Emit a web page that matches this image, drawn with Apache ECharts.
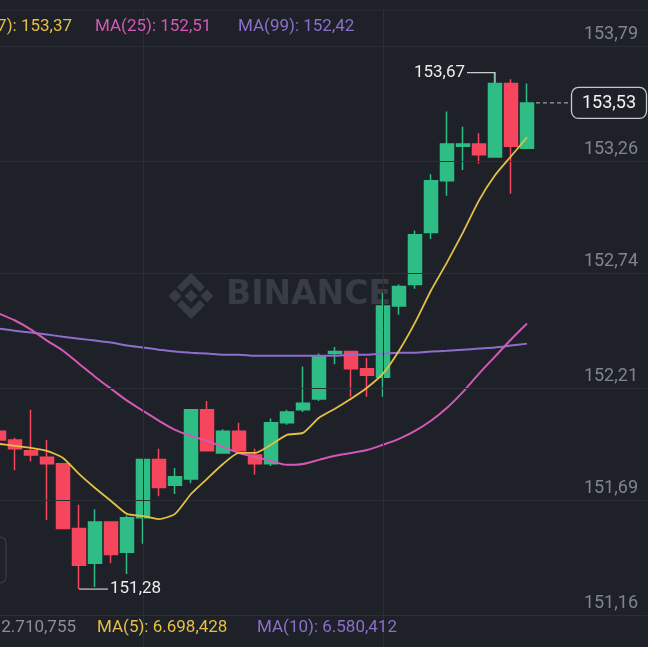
<!DOCTYPE html>
<html>
<head>
<meta charset="utf-8">
<script src="https://cdn.jsdelivr.net/npm/echarts@6/dist/echarts.min.js"></script>
<style>
html,body{margin:0;padding:0;background:#1e2128;overflow:hidden;}
#c{width:648px;height:647px;}
</style>
</head>
<body>
<div id="c"></div>
<script>
// ---- data ----
// candles: [open, close, low, high]
const candles = [
  [152.01, 151.97, 151.96, 152.02],
  [151.97, 151.93, 151.83, 151.98],
  [151.92, 151.90, 151.87, 152.11],
  [151.89, 151.86, 151.60, 151.97],
  [151.86, 151.56, 151.56, 151.86],
  [151.56, 151.39, 151.28, 151.67],
  [151.40, 151.59, 151.29, 151.65],
  [151.59, 151.44, 151.40, 151.59],
  [151.45, 151.61, 151.35, 151.62],
  [151.61, 151.88, 151.49, 151.88],
  [151.88, 151.75, 151.71, 151.93],
  [151.76, 151.80, 151.72, 151.84],
  [151.79, 152.11, 151.77, 152.11],
  [152.11, 151.92, 151.92, 152.15],
  [151.91, 152.01, 151.91, 152.02],
  [152.01, 151.92, 151.91, 152.05],
  [151.90, 151.86, 151.81, 151.93],
  [151.86, 152.05, 151.85, 152.07],
  [152.05, 152.10, 152.04, 152.11],
  [152.11, 152.14, 152.10, 152.31],
  [152.16, 152.36, 152.15, 152.37],
  [152.37, 152.38, 152.32, 152.40],
  [152.38, 152.30, 152.17, 152.38],
  [152.30, 152.27, 152.17, 152.35],
  [152.26, 152.59, 152.17, 152.65],
  [152.59, 152.68, 152.55, 152.69],
  [152.69, 152.92, 152.67, 152.94],
  [152.93, 153.17, 152.90, 153.20],
  [153.17, 153.34, 153.10, 153.49],
  [153.33, 153.34, 153.22, 153.42],
  [153.34, 153.29, 153.25, 153.39],
  [153.28, 153.62, 153.28, 153.67],
  [153.62, 153.33, 153.11, 153.64],
  [153.32, 153.53, 153.32, 153.62]
];
const ma7 = [151.952,151.943,151.934,151.920,151.887,151.813,151.748,151.688,151.628,151.618,
  151.604,151.628,151.720,151.790,151.859,151.910,151.910,151.948,151.994,152.003,
  152.073,152.115,152.161,152.212,152.277,152.383,152.513,152.662,152.792,152.931,
  153.079,153.195,153.283,153.371];
const ma25 = [152.555,152.523,152.481,152.430,152.383,152.323,152.263,152.207,152.152,152.105,
  152.059,152.017,151.989,151.966,151.938,151.910,151.892,151.873,151.855,151.859,
  151.878,151.897,151.910,151.924,151.948,151.975,152.012,152.059,152.119,152.193,
  152.277,152.356,152.435,152.509];
const ma99 = [152.486,152.476,152.467,152.458,152.448,152.439,152.430,152.421,152.407,152.398,
  152.388,152.379,152.374,152.370,152.365,152.365,152.360,152.360,152.360,152.360,
  152.360,152.360,152.365,152.365,152.370,152.374,152.374,152.379,152.383,152.388,
  152.393,152.398,152.407,152.416];
const yTicks = [151.16, 151.69, 152.21, 152.74, 153.26, 153.79];
const vGridAt = [9, 24];           // candle indices carrying vertical grid lines
const volLegend = ['2.710,755', 'MA(5): 6.698,428', 'MA(10): 6.580,412'];
const watermark = 'BINANCE';
const emptySlots = 7;              // empty room right of the last candle

// ---- styles ----
const BG = '#1e2128', GRID = '#2a2e36', AXT = '#80858d';
const UP = '#2ebd85', DOWN = '#f6465d';
const C7 = '#e6bf45', C25 = '#d558b6', C99 = '#8c6fcc';
const FONT = 'Roboto, "Noto Sans", sans-serif';

const categories = [];
for (let i = 0; i < candles.length + emptySlots; i++) categories.push(String(i));
const fmt = v => v.toFixed(2).replace('.', ',');
const last = candles.length - 1;

const chart = echarts.init(document.getElementById('c'));
chart.setOption({
  backgroundColor: BG,
  animation: false,
  grid: { left: -9, right: 1, top: 10, bottom: 0, containLabel: false, outerBoundsMode: 'none' },
  xAxis: {
    type: 'category', data: categories, boundaryGap: true,
    axisLine: { show: false }, axisTick: { show: false }, axisLabel: { show: false },
    splitLine: { show: false }
  },
  yAxis: {
    type: 'value', position: 'right', min: 151.012, max: 153.960,
    axisLine: { show: false }, axisTick: { show: false }, axisLabel: { show: false },
    splitLine: { show: false }
  },
  series: [
    {
      type: 'line', data: [], z: 1, silent: true,
      markLine: {
        silent: true, symbol: ['none', 'none'], animation: false,
        lineStyle: { color: GRID, type: 'solid', width: 1 },
        label: {
          show: true, position: 'insideEndTop', distance: [9, 3],
          color: AXT, fontSize: 18, fontFamily: FONT,
          formatter: p => fmt(p.value)
        },
        data: yTicks.map(v => ({ yAxis: v })).concat(
          vGridAt.map(i => ({ xAxis: i, label: { show: false } })))
      }
    },
    {
      type: 'candlestick', data: candles, barWidth: 14, z: 3,
      itemStyle: { color: UP, color0: DOWN, borderColor: UP, borderColor0: DOWN, borderWidth: 1.5 }
    },
    { type: 'line', data: ma99, showSymbol: false, smooth: 0.3, z: 4,
      lineStyle: { color: C99, width: 2 } },
    { type: 'line', data: ma25, showSymbol: false, smooth: 0.3, z: 4,
      lineStyle: { color: C25, width: 2 } },
    { type: 'line', data: ma7, showSymbol: false, smooth: 0.2, z: 5,
      lineStyle: { color: C7, width: 1.8 } }
  ]
});

// ---- annotations positioned through the chart's scales ----
const P = (i, v) => chart.convertToPixel({ gridIndex: 0 }, [i, v]);
let hi = 0, lo = 0;
candles.forEach((c, i) => { if (c[3] > candles[hi][3]) hi = i; if (c[2] < candles[lo][2]) lo = i; });
const pHi = P(hi, candles[hi][3]);
const pLo = P(lo, candles[lo][2]);
const pLast = P(last, candles[last][1]);

const wm = '#383c44';
const cx = 191, cy = 296;
const dia = (x, y, r) => ({ type: 'polygon', shape: { points: [[x, y - r], [x + r, y], [x, y + r], [x - r, y]] }, style: { fill: wm } });

chart.setOption({
  graphic: [
    // watermark
    { type: 'group', z: 0, silent: true, children: [
      dia(cx, cy, 6.5), dia(cx - 16, cy, 6.5), dia(cx + 16, cy, 6.5),
      { type: 'polygon', shape: { points: [[cx, cy - 23], [cx + 14, cy - 9], [cx + 9, cy - 4], [cx, cy - 13], [cx - 9, cy - 4], [cx - 14, cy - 9]] }, style: { fill: wm } },
      { type: 'polygon', shape: { points: [[cx, cy + 23], [cx + 14, cy + 9], [cx + 9, cy + 4], [cx, cy + 13], [cx - 9, cy + 4], [cx - 14, cy + 9]] }, style: { fill: wm } },
      { type: 'text', x: 226, y: 295, style: { text: watermark, fill: wm, font: 'bold 33px "DejaVu Sans", sans-serif', verticalAlign: 'middle', align: 'left' } }
    ] },
    // top separator
    { type: 'line', z: 1, shape: { x1: 0, y1: 10, x2: 648, y2: 10 }, style: { stroke: GRID, lineWidth: 1 } },
    // left UI box stub
    { type: 'rect', z: 10, shape: { x: -20, y: 537, width: 26, height: 46, r: 6 }, style: { fill: 'none', stroke: '#3a3e46', lineWidth: 1.2 } },
    // top legend
    { type: 'text', z: 10, x: 72, y: 27, style: { text: 'MA(7): ' + fmt(ma7[last]), fill: C7, font: '17px ' + FONT, align: 'right', verticalAlign: 'middle' } },
    { type: 'text', z: 10, x: 95, y: 27, style: { text: 'MA(25): ' + fmt(ma25[last]), fill: C25, font: '17px ' + FONT, align: 'left', verticalAlign: 'middle' } },
    { type: 'text', z: 10, x: 238, y: 27, style: { text: 'MA(99): ' + fmt(ma99[last]), fill: C99, font: '17px ' + FONT, align: 'left', verticalAlign: 'middle' } },
    // bottom (volume) legend
    { type: 'text', z: 10, x: 76, y: 628, style: { text: volLegend[0], fill: '#8a8f97', font: '17px ' + FONT, align: 'right', verticalAlign: 'middle' } },
    { type: 'text', z: 10, x: 97, y: 628, style: { text: volLegend[1], fill: C7, font: '17px ' + FONT, align: 'left', verticalAlign: 'middle' } },
    { type: 'text', z: 10, x: 257, y: 628, style: { text: volLegend[2], fill: C99, font: '17px ' + FONT, align: 'left', verticalAlign: 'middle' } },
    // high marker
    { type: 'polyline', z: 10, shape: { points: [[pHi[0] - 28, pHi[1]], [pHi[0], pHi[1]], [pHi[0], pHi[1] + 10]] }, style: { stroke: '#c9ccd1', lineWidth: 1.2, fill: 'none' } },
    { type: 'text', z: 10, x: pHi[0] - 30, y: pHi[1], style: { text: fmt(candles[hi][3]), fill: '#eaecef', font: '17px ' + FONT, align: 'right', verticalAlign: 'middle' } },
    // low marker
    { type: 'line', z: 10, shape: { x1: pLo[0], y1: pLo[1], x2: pLo[0] + 29, y2: pLo[1] }, style: { stroke: '#c9ccd1', lineWidth: 1.2 } },
    { type: 'text', z: 10, x: pLo[0] + 31, y: pLo[1], style: { text: fmt(candles[lo][2]), fill: '#eaecef', font: '17px ' + FONT, align: 'left', verticalAlign: 'middle' } },
    // last price
    { type: 'line', z: 10, shape: { x1: pLast[0] + 9, y1: pLast[1], x2: 571, y2: pLast[1] }, style: { stroke: '#9a9ea5', lineWidth: 1.2, lineDash: [4, 3] } },
    { type: 'rect', z: 10, shape: { x: 571.5, y: pLast[1] - 15.5, width: 75, height: 31, r: 7 }, style: { fill: BG, stroke: '#c4c7cc', lineWidth: 1.3 } },
    { type: 'text', z: 11, x: 609, y: pLast[1] + 0.5, style: { text: fmt(candles[last][1]), fill: '#f2f3f5', font: '18px ' + FONT, align: 'center', verticalAlign: 'middle' } }
  ]
});
</script>
</body>
</html>
